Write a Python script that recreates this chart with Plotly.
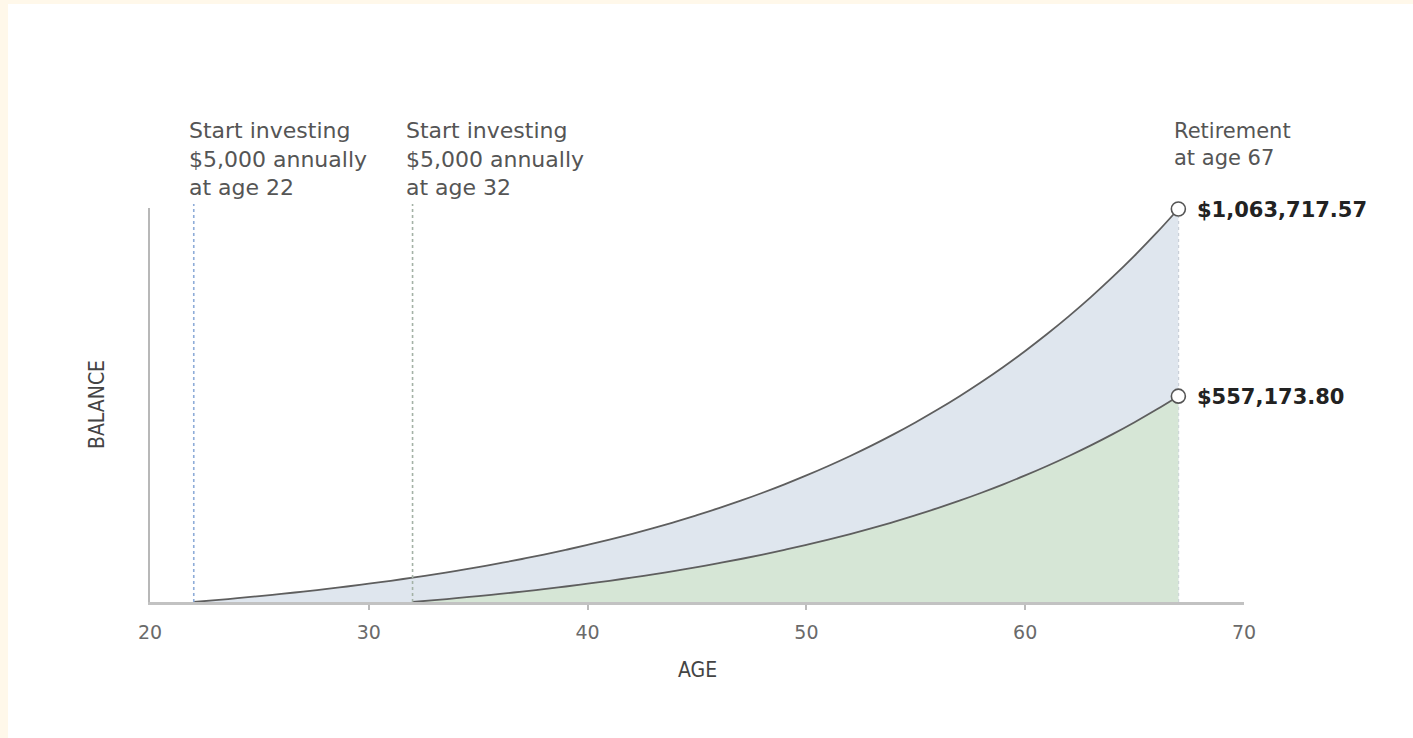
import plotly.graph_objects as go

# Balances ($5,000/yr), by age
ages_early = list(range(22, 68))
balance_early = [0, 5000, 10300, 15918, 21873, 28185, 34877, 41969, 49487, 57457,
                 65904, 74858, 84350, 94411, 105075, 116380, 128363, 141064, 154528,
                 168800, 183928, 199964, 216962, 234979, 254078, 274323, 295782,
                 318529, 342641, 368199, 395291, 424008, 454449, 486716, 520919,
                 557174, 595604, 636340, 679521, 725292, 773810, 825238, 879753,
                 937538, 998790, 1063717.57]
ages_late = list(range(32, 68))
balance_late = [0, 5000, 10300, 15918, 21873, 28185, 34877, 41969, 49487, 57457,
                65904, 74858, 84350, 94411, 105075, 116380, 128363, 141064, 154528,
                168800, 183928, 199964, 216962, 234979, 254078, 274323, 295782,
                318529, 342641, 368199, 395291, 424008, 454449, 486716, 520919,
                557173.80]
start_ages = [22, 32]
retire_age = 67
x_ticks = [20, 30, 40, 50, 60, 70]

LINE = "#5e5e5e"
BLUE_FILL = "#dfe6ee"
GREEN_FILL = "#d6e6d6"
TXT = "#555555"
FONT = "DejaVu Sans, Verdana, sans-serif"
NARROW = "Liberation Sans Narrow, DejaVu Sans Condensed, Arial Narrow, sans-serif"

fig = go.Figure()
fig.add_trace(go.Scatter(x=ages_early, y=balance_early, mode="lines",
                         line=dict(color=LINE, width=1.8, shape="spline", smoothing=1),
                         fill="tozeroy", fillcolor=BLUE_FILL, hoverinfo="skip",
                         showlegend=False))
fig.add_trace(go.Scatter(x=ages_late, y=balance_late, mode="lines",
                         line=dict(color=LINE, width=1.8, shape="spline", smoothing=1),
                         fill="tozeroy", fillcolor=GREEN_FILL, hoverinfo="skip",
                         showlegend=False))

end_vals = [balance_early[-1], balance_late[-1]]

shapes = [
    dict(type="rect", xref="paper", yref="paper", x0=-0.1298, x1=1.16, y0=-0.36,
         y1=1.5178, fillcolor="white", line=dict(width=0), layer="below"),
    dict(type="line", xref="x", yref="paper", x0=start_ages[0], x1=start_ages[0],
         y0=0, y1=1.01, line=dict(color="#8eacd8", width=1.6, dash="dot"), layer="above"),
    dict(type="line", xref="x", yref="paper", x0=start_ages[1], x1=start_ages[1],
         y0=0, y1=1.01, line=dict(color="#a4b2a6", width=1.6, dash="dot"), layer="above"),
    dict(type="line", xref="x", yref="y", x0=retire_age, x1=retire_age,
         y0=0, y1=end_vals[0] * 0.98, line=dict(color="#bcc3cc", width=1.6, dash="dot"),
         layer="below"),
]

fig.add_trace(go.Scatter(x=[retire_age, retire_age], y=end_vals, mode="markers",
                         marker=dict(size=14, color="white",
                                     line=dict(color="#555555", width=1.6)),
                         cliponaxis=False, hoverinfo="skip", showlegend=False))

annotations = [
    dict(text="Start investing<br>$5,000 annually<br>at age %d" % start_ages[0],
         x=start_ages[0] - 0.32, y=1.124, xref="x", yref="paper", xanchor="left",
         yanchor="middle", align="left", showarrow=False,
         font=dict(family=FONT, size=22, color=TXT)),
    dict(text="Start investing<br>$5,000 annually<br>at age %d" % start_ages[1],
         x=start_ages[1] - 0.4, y=1.124, xref="x", yref="paper", xanchor="left",
         yanchor="middle", align="left", showarrow=False,
         font=dict(family=FONT, size=22, color=TXT)),
    dict(text="Retirement<br>at age %d" % retire_age,
         x=retire_age - 0.3, y=1.162, xref="x", yref="paper", xanchor="left",
         yanchor="middle", align="left", showarrow=False,
         font=dict(family=FONT, size=21, color=TXT)),
    dict(text="<b>$%s</b>" % format(end_vals[0], ",.2f"), x=retire_age + 0.75,
         y=end_vals[0], xref="x", yref="y", xanchor="left", yanchor="middle",
         yshift=-1, showarrow=False, font=dict(family=FONT, size=21, color="#222222")),
    dict(text="<b>$%s</b>" % format(end_vals[1], ",.2f"), x=retire_age + 0.75,
         y=end_vals[1], xref="x", yref="y", xanchor="left", yanchor="middle",
         yshift=-1, showarrow=False, font=dict(family=FONT, size=21, color="#222222")),
    dict(text="AGE", x=0.5, y=-0.1726, xref="paper", yref="paper", xanchor="center",
         yanchor="middle", showarrow=False, font=dict(family=NARROW, size=21, color="#444444")),
    dict(text="BALANCE", x=-0.0484, y=0.5, xref="paper", yref="paper", xanchor="center",
         yanchor="middle", textangle=-90, showarrow=False,
         font=dict(family=NARROW, size=21, color="#444444")),
]

fig.update_layout(
    width=1413, height=738,
    margin=dict(l=150, r=169, t=208, b=136, pad=0),
    paper_bgcolor="#fff8ea", plot_bgcolor="rgba(0,0,0,0)",
    shapes=shapes, annotations=annotations, showlegend=False,
    xaxis=dict(range=[20, 70], tickvals=x_ticks, ticks="", showgrid=False,
               zeroline=False, showline=True, linecolor="#c2c2c2", linewidth=2.5,
               tickfont=dict(family=FONT, size=19, color="#6a6a6a"),
               ticklabelstandoff=11,
               minor=dict(tickvals=x_ticks[1:-1], ticks="outside", ticklen=5,
                          tickwidth=1.5, tickcolor="#bbbbbb")),
    yaxis=dict(range=[0, 1066425], showticklabels=False, ticks="", showgrid=False,
               zeroline=False, showline=True, linecolor="#b8b8b8", linewidth=2),
)

fig.write_html("out.html")
